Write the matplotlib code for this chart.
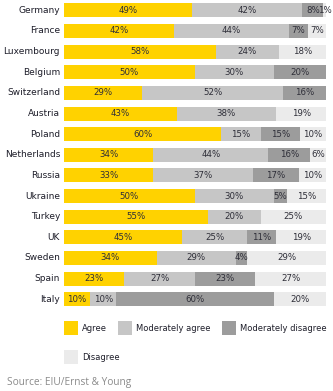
import matplotlib
matplotlib.use('Agg')
import matplotlib.pyplot as plt
from matplotlib.patches import Rectangle
import numpy as np

# ── Data ─────────────────────────────────────────────────────────────────────
countries = ['Germany', 'France', 'Luxembourg', 'Belgium', 'Switzerland',
             'Austria', 'Poland', 'Netherlands', 'Russia', 'Ukraine',
             'Turkey', 'UK', 'Sweden', 'Spain', 'Italy']
agree        = [49, 42, 58, 50, 29, 43, 60, 34, 33, 50, 55, 45, 34, 23, 10]
mod_agree    = [42, 44, 24, 30, 52, 38, 15, 44, 37, 30, 20, 25, 29, 27, 10]
mod_disagree = [8, 7, 0, 20, 16, 0, 15, 16, 17, 5, 0, 11, 4, 23, 60]
disagree     = [1, 7, 18, 0, 0, 19, 10, 6, 10, 15, 25, 19, 29, 27, 20]
series_names = ['Agree', 'Moderately agree', 'Moderately disagree', 'Disagree']

C_YELLOW = '#FFD200'
C_MAGREE = '#C6C6C6'
C_MDIS   = '#9C9C9C'
C_DIS    = '#EBEBEB'
colors = [C_YELLOW, C_MAGREE, C_MDIS, C_DIS]
C_TEXT = '#1E1E2A'

W, H = 333, 391
fig = plt.figure(figsize=(W / 100, H / 100), dpi=100)
fig.patch.set_facecolor('white')

# axes placed in pixel terms
ax_top, ax_bot = 0.0, 309.6
ax = fig.add_axes([64 / W, 1 - ax_bot / H, 262 / W, (ax_bot - ax_top) / H])
ax.set_xlim(0, 100)
ax.set_ylim(len(countries) - 0.5, -0.5)
ax.axis('off')

data = np.array([agree, mod_agree, mod_disagree, disagree], dtype=float)
totals = data.sum(axis=0)
widths = data / totals * 100  # bars are stretched to full width

y = np.arange(len(countries))
left = np.zeros(len(countries))
for k in range(4):
    ax.barh(y, widths[k], left=left, height=0.68, color=colors[k],
            edgecolor='none')
    for i in range(len(countries)):
        v = data[k, i]
        if v > 0:
            ax.text(left[i] + widths[k, i] / 2, y[i], f'{int(v)}%',
                    ha='center', va='center', fontsize=6.2, color='#2E2E38')
    left += widths[k]

for i, c in enumerate(countries):
    ax.text(-1.5, y[i], c, ha='right', va='center', fontsize=6.5,
            color=C_TEXT)

# ── Legend (flow layout) ─────────────────────────────────────────────────────
legend_pos = [(64, 321), (118, 321), (222, 321), (64, 350)]
for (px, py), name, col in zip(legend_pos, series_names, colors):
    fig.add_artist(Rectangle((px / W, 1 - (py + 14) / H), 14 / W, 14 / H,
                             transform=fig.transFigure, facecolor=col,
                             edgecolor='none'))
    fig.text((px + 18) / W, 1 - (py + 7.5) / H, name, ha='left',
             va='center', fontsize=6.0, color=C_TEXT)

fig.text(7 / W, 1 - 383 / H, 'Source: EIU/Ernst & Young', ha='left',
         va='center', fontsize=7.3, color='#8A8A8A', family='Open Sans')

plt.savefig('out.png', dpi=100, facecolor='white')
plt.close()
